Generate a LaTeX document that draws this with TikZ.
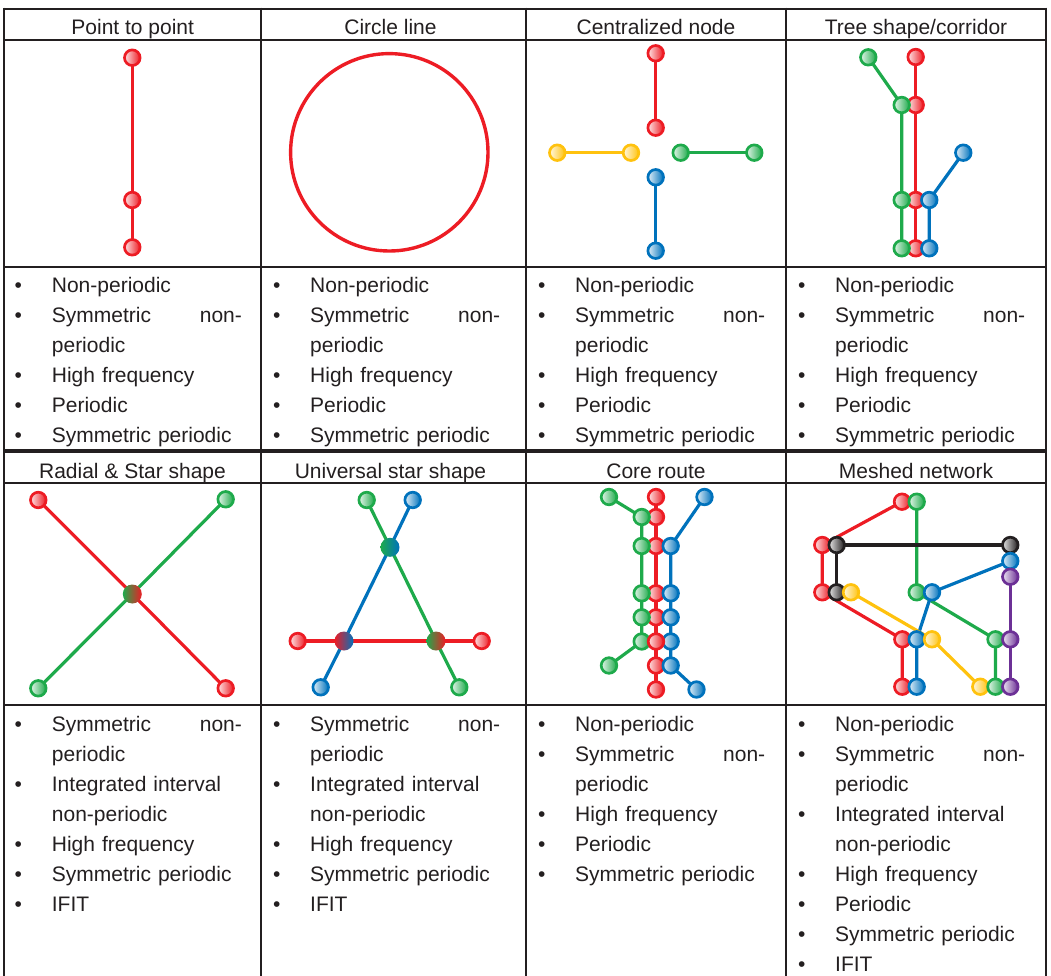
\documentclass[tikz,border=0pt]{standalone}
\usepackage{fontspec}
\setmainfont{Liberation Sans}
\setlength\parindent{0pt}
\definecolor{cred}{RGB}{237,28,36}
\definecolor{cgreen}{RGB}{30,170,75}
\definecolor{cblue}{RGB}{0,114,188}
\definecolor{cyellow}{RGB}{255,194,14}
\definecolor{cpurple}{RGB}{108,48,150}
\definecolor{cblack}{RGB}{35,31,32}
\definecolor{ink}{RGB}{35,31,32}
\pgfdeclarelayer{edges}
\pgfsetlayers{edges,main}
\newcommand\bul{\strut\llap{\textbullet\hspace{29.8pt}}}
\tikzset{
  stn/.style={circle, inner sep=0pt, minimum size=15.6pt, line width=2.7pt,
    draw=#1, left color=#1!12!white, right color=#1},
  hub/.style 2 args={circle, inner sep=0pt, minimum size=19pt,
    left color=#1, right color=#2},
  ln/.style={line width=3.2pt, draw=#1, line join=round},
  grid/.style={line width=2pt, draw=ink},
  head/.style={font=\fontsize{21}{30}\selectfont, text=ink, anchor=base, inner sep=0pt},
  cell/.style={font=\fontsize{21}{30}\selectfont, text=ink, anchor=north west,
    inner sep=0pt, text width=190pt, align=left},
}
\begin{document}
\begin{tikzpicture}[x=1pt,y=-1pt]
\useasboundingbox (0,0) rectangle (1051,975);

% table rules
\foreach \xx in {4.2,261.2,526.3,786.2,1046}
  \draw[grid] (\xx,7.7) -- (\xx,985);
\foreach \yy in {8.7,40,266.5,483,705}
  \draw[grid] (3.2,\yy) -- (1047,\yy);
\draw[line width=4.5pt, draw=ink] (3.2,450.8) -- (1047,450.8);

% column headings
\node[head] (h1) at (132.7,34.3) {Point to point};
\node[head] (h2) at (390.5,34.3) {Circle line};
\node[head] (h3) at (656,34.3) {Centralized node};
\node[head] (h4) at (916,34.3) {Tree shape/corridor};
\node[head] (h5) at (132.5,478.3) {Radial \& Star shape};
\node[head] (h6) at (390.5,478.3) {Universal star shape};
\node[head] (h7) at (656,478.3) {Core route};
\node[head] (h8) at (916,478.3) {Meshed network};

% property lists
\node[cell] (t1) at (51.7,271) {\bul Non-periodic\\ \bul Symmetric\hfill non-\\ periodic\\ \bul High frequency\\ \bul Periodic\\ \bul Symmetric periodic};
\node[cell] (t2) at (310,271) {\bul Non-periodic\\ \bul Symmetric\hfill non-\\ periodic\\ \bul High frequency\\ \bul Periodic\\ \bul Symmetric periodic};
\node[cell] (t3) at (575,271) {\bul Non-periodic\\ \bul Symmetric\hfill non-\\ periodic\\ \bul High frequency\\ \bul Periodic\\ \bul Symmetric periodic};
\node[cell] (t4) at (835,271) {\bul Non-periodic\\ \bul Symmetric\hfill non-\\ periodic\\ \bul High frequency\\ \bul Periodic\\ \bul Symmetric periodic};
\node[cell] (t5) at (51.7,710) {\bul Symmetric\hfill non-\\ periodic\\ \bul Integrated interval\\ non-periodic\\ \bul High frequency\\ \bul Symmetric periodic\\ \bul IFIT};
\node[cell] (t6) at (310,710) {\bul Symmetric\hfill non-\\ periodic\\ \bul Integrated interval\\ non-periodic\\ \bul High frequency\\ \bul Symmetric periodic\\ \bul IFIT};
\node[cell] (t7) at (575,710) {\bul Non-periodic\\ \bul Symmetric\hfill non-\\ periodic\\ \bul High frequency\\ \bul Periodic\\ \bul Symmetric periodic};
\node[cell] (t8) at (835,710) {\bul Non-periodic\\ \bul Symmetric\hfill non-\\ periodic\\ \bul Integrated interval\\ non-periodic\\ \bul High frequency\\ \bul Periodic\\ \bul Symmetric periodic\\ \bul IFIT};

% point to point
\node[stn=cred] (pa) at (132.3,57.7) {};
\node[stn=cred] (pb) at (132.3,200) {};
\node[stn=cred] (pc) at (132.3,247.3) {};

% circle line
\node[circle, draw=cred, line width=3.4pt, minimum size=197.4pt, inner sep=0pt] (loop) at (389.3,152.3) {};

% centralized node
\node[stn=cred] (cr1) at (655.7,53.3) {};
\node[stn=cred] (cr2) at (655.7,127.7) {};
\node[stn=cyellow] (cy1) at (557.3,152.7) {};
\node[stn=cyellow] (cy2) at (631,152.7) {};
\node[stn=cgreen] (cg1) at (680.7,152.7) {};
\node[stn=cgreen] (cg2) at (754.3,152.7) {};
\node[stn=cblue] (cb1) at (655.7,177.3) {};
\node[stn=cblue] (cb2) at (655.7,250.7) {};

% tree shape / corridor
\node[stn=cred] (tr1) at (915.7,57) {};
\node[stn=cred] (tr2) at (915.7,105) {};
\node[stn=cred] (tr3) at (915.7,200) {};
\node[stn=cred] (tr4) at (915.7,248.3) {};
\node[stn=cgreen] (tg1) at (868.3,57.3) {};
\node[stn=cgreen] (tg2) at (901.7,105) {};
\node[stn=cgreen] (tg3) at (901.7,200) {};
\node[stn=cgreen] (tg4) at (901.7,248.3) {};
\node[stn=cblue] (tb1) at (963.3,152.7) {};
\node[stn=cblue] (tb2) at (929.3,200) {};
\node[stn=cblue] (tb3) at (929.3,248.3) {};

% radial and star shape
\node[stn=cred] (sr1) at (38.3,500) {};
\node[stn=cgreen] (sg1) at (225.7,499.3) {};
\node[hub={cgreen}{cred}] (shub) at (132.3,594) {};
\node[stn=cgreen] (sg2) at (38.3,688.3) {};
\node[stn=cred] (sr2) at (225.7,688.3) {};

% universal star shape
\node[stn=cgreen] (ug1) at (366.7,500) {};
\node[stn=cblue] (ub1) at (412.7,500) {};
\node[hub={cgreen}{cblue}] (uhgb) at (390,547.3) {};
\node[stn=cred] (ur1) at (297.7,641) {};
\node[hub={cred}{cblue}] (uhrb) at (344,641) {};
\node[hub={cgreen}{cred}] (uhgr) at (436,641) {};
\node[stn=cred] (ur2) at (481.7,641) {};
\node[stn=cblue] (ub2) at (320.7,687.3) {};
\node[stn=cgreen] (ug2) at (459.3,687.3) {};

% core route
\node[stn=cred] (kr1) at (656,497) {};
\node[stn=cred] (kr2) at (656,517) {};
\node[stn=cred] (kr3) at (656,546) {};
\node[stn=cred] (kr4) at (656,593.3) {};
\node[stn=cred] (kr5) at (656,617.3) {};
\node[stn=cred] (kr7) at (656,665.5) {};
\node[stn=cred] (kr8) at (656,689.5) {};
\node[stn=cgreen] (kg1) at (609,497) {};
\node[stn=cgreen] (kg2) at (641.7,517) {};
\node[stn=cgreen] (kg3) at (641.7,546) {};
\node[stn=cgreen] (kg4) at (641.7,593.3) {};
\node[stn=cgreen] (kg5) at (641.7,617.3) {};
\node[stn=cgreen] (kg6) at (641.7,641.5) {};
\node[stn=cgreen] (kg7) at (609,665.5) {};
\node[stn=cblue] (kb1) at (704.5,497) {};
\node[stn=cblue] (kb2) at (670.7,546) {};
\node[stn=cblue] (kb3) at (670.7,593.3) {};
\node[stn=cblue] (kb4) at (670.7,617.3) {};
\node[stn=cblue] (kb5) at (670.7,641.5) {};
\node[stn=cblue] (kb6) at (670.7,665.5) {};
\node[stn=cblue] (kb7) at (696.5,689.5) {};
\node[stn=cred] (kr6) at (656,641.5) {};

% meshed network
\node[stn=cred] (mr1) at (902,501.7) {};
\node[stn=cgreen] (mg1) at (916.7,501.7) {};
\node[stn=cred] (mr2) at (822.3,545) {};
\node[stn=cblack] (mk1) at (836.7,545) {};
\node[stn=cblack] (mk2) at (1010.3,545) {};
\node[stn=cblue] (mb1) at (1010.3,561) {};
\node[stn=cpurple] (mp1) at (1010.3,576.7) {};
\node[stn=cred] (mr3) at (822.3,592.3) {};
\node[stn=cblack] (mk3) at (836.7,592.3) {};
\node[stn=cyellow] (my1) at (851,592.3) {};
\node[stn=cgreen] (mg2) at (916.7,592.3) {};
\node[stn=cblue] (mb2) at (932,592.3) {};
\node[stn=cred] (mr4) at (902.3,639.3) {};
\node[stn=cblue] (mb3) at (916.7,639.3) {};
\node[stn=cyellow] (my2) at (932,639.3) {};
\node[stn=cgreen] (mg3) at (995.5,639.3) {};
\node[stn=cpurple] (mp2) at (1010.3,639.3) {};
\node[stn=cred] (mr5) at (902.3,686.7) {};
\node[stn=cblue] (mb4) at (916.7,686.7) {};
\node[stn=cyellow] (my3) at (980.3,686.7) {};
\node[stn=cgreen] (mg4) at (995.5,686.7) {};
\node[stn=cpurple] (mp3) at (1010.3,686.7) {};

\begin{pgfonlayer}{edges}
  % point to point
  \draw[ln=cred] (pa.center) -- (pb.center) -- (pc.center);
  % centralized node
  \draw[ln=cred] (cr1.center) -- (cr2.center);
  \draw[ln=cyellow] (cy1.center) -- (cy2.center);
  \draw[ln=cgreen] (cg1.center) -- (cg2.center);
  \draw[ln=cblue] (cb1.center) -- (cb2.center);
  % tree shape / corridor
  \draw[ln=cred] (tr1.center) -- (tr2.center) -- (tr3.center) -- (tr4.center);
  \draw[ln=cgreen] (tg1.center) -- (tg2.center) -- (tg3.center) -- (tg4.center);
  \draw[ln=cblue] (tb1.center) -- (tb2.center) -- (tb3.center);
  % radial and star shape
  \draw[ln=cred] (sr1.center) -- (shub.center) -- (sr2.center);
  \draw[ln=cgreen] (sg1.center) -- (shub.center) -- (sg2.center);
  % universal star shape
  \draw[ln=cred] (ur1.center) -- (uhrb.center) -- (uhgr.center) -- (ur2.center);
  \draw[ln=cgreen] (ug1.center) -- (uhgb.center) -- (uhgr.center) -- (ug2.center);
  \draw[ln=cblue] (ub1.center) -- (uhgb.center) -- (uhrb.center) -- (ub2.center);
  % core route
  \draw[ln=cred] (kr1.center) -- (kr2.center) -- (kr3.center) -- (kr4.center)
    -- (kr5.center) -- (kr6.center) -- (kr7.center) -- (kr8.center);
  \draw[ln=cgreen] (kg1.center) -- (kg2.center) -- (kg3.center) -- (kg4.center)
    -- (kg5.center) -- (kg6.center) -- (kg7.center);
  \draw[ln=cblue] (kb1.center) -- (kb2.center) -- (kb3.center) -- (kb4.center)
    -- (kb5.center) -- (kb6.center) -- (kb7.center);
  % meshed network
  \draw[ln=cred] (mr1.center) -- (mr2.center) -- (mr3.center) -- (mr4.center) -- (mr5.center);
  \draw[ln=cgreen] (mg1.center) -- (mg2.center) -- (mg3.center) -- (mg4.center);
  \draw[ln=cblue] (mb1.center) -- (mb2.center) -- (mb3.center) -- (mb4.center);
  \draw[ln=cblack] (mk2.center) -- (mk1.center) -- (mk3.center);
  \draw[ln=cyellow] (my1.center) -- (my2.center) -- (my3.center);
  \draw[ln=cpurple] (mp1.center) -- (mp2.center) -- (mp3.center);
\end{pgfonlayer}
\end{tikzpicture}
\end{document}
